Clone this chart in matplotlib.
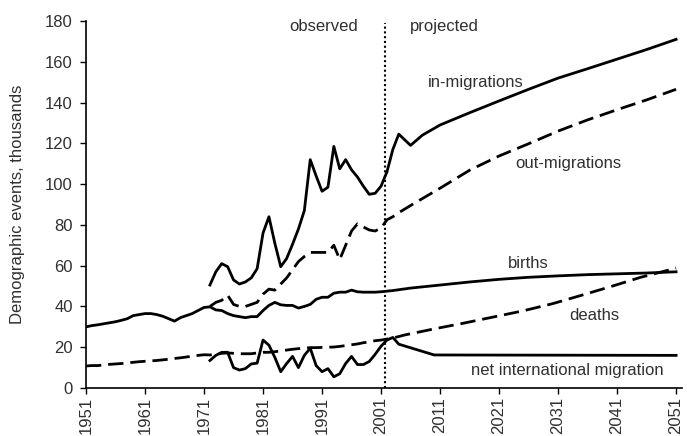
import numpy as np
import matplotlib
matplotlib.use('Agg')
import matplotlib.pyplot as plt

plt.rcParams['font.family'] = ['Liberation Sans', 'DejaVu Sans']

# births and deaths, observed yearly then projected
births_years = list(range(1951, 2002)) + [2003, 2006, 2011, 2016, 2021, 2026, 2031, 2036, 2041, 2046, 2051]
births = [30, 30.6, 31, 31.5, 32, 32.5, 33.2, 34, 35.5, 36, 36.5, 36.5, 36, 35.2, 34, 32.8, 34.5, 35.5,
          36.5, 38, 39.5, 39.8, 38.3, 38, 36.5, 35.5, 35, 34.5, 35, 35, 38, 40.5, 42, 40.8, 40.5, 40.5,
          39.2, 40, 41, 43.5, 44.5, 44.5, 46.5, 47, 47, 48, 47.2, 47, 47, 47, 47.2,
          47.8, 49, 50.5, 52, 53.3, 54.3, 55, 55.6, 56, 56.4, 57]

deaths_years = list(range(1951, 2002)) + [2003, 2005, 2010, 2015, 2020, 2025, 2030, 2035, 2040, 2045, 2051]
deaths = [10.8, 11, 11, 11.3, 11.6, 11.8, 12, 12.3, 12.6, 12.9, 13.1, 13.3, 13.5, 13.8, 14.1, 14.5, 14.8,
          15.2, 15.6, 16, 16.3, 16.2, 16.5, 17, 17.2, 17, 16.8, 16.8, 16.8, 17.2, 17.5, 17.5, 17.8, 18.2,
          18.6, 19, 19.3, 19.6, 19.8, 19.8, 19.9, 20, 20.1, 20.4, 20.8, 21.2, 21.6, 22.2, 22.6, 23.2, 23.5,
          24.5, 26, 29, 31.8, 34.8, 37.8, 41.3, 45.5, 49.8, 54.3, 58.8]

# migrations start in 1972
mig_years = list(range(1972, 2005))
in_mig = [50.5, 57, 61, 59.5, 53, 51, 52, 54, 58.5, 76, 84, 71, 59.5, 63.5, 70.5, 78, 87, 112, 104,
          96.5, 98.5, 118.5, 107.5, 112, 107, 103.5, 99, 95, 95.5, 99, 106, 117, 124.5]
in_proj_years = [2006, 2008, 2011, 2016, 2021, 2026, 2031, 2036, 2041, 2046, 2051]
in_proj = [119, 124, 129, 135, 140.8, 146.5, 152, 156.6, 161.3, 166, 171]

out_mig = [40, 42, 43, 45.5, 41, 40, 40, 41, 42, 46, 48.5, 48, 51, 54, 58, 62, 64.5, 66.5, 66.5, 66.5,
           66.5, 70, 63, 70, 77, 80.5, 79, 77.5, 77, 78.5, 82.5, 84, 86]
out_proj_years = [2006, 2011, 2016, 2021, 2026, 2031, 2036, 2041, 2046, 2051]
out_proj = [89.5, 98, 106.8, 113.8, 119.8, 126, 131.5, 136.5, 141.3, 146.5]

net_years = list(range(1972, 2005)) + [2010, 2051]
net_mig = [13.5, 16, 17.5, 17.5, 10, 8.8, 9.5, 11.8, 12.2, 23.5, 21, 15, 8, 12, 15.5, 10, 16, 19.5, 11,
           8, 9.5, 5.5, 7, 12, 15.5, 11.5, 11.5, 13, 16.5, 20.5, 23.5, 24.8, 21.5, 16.2, 16]

split_year = 2001.6
tick_years = list(range(1951, 2052, 10))

labels = {
    'observed': (1991.2, 177.5),
    'projected': (2011.8, 177.5),
    'in-migrations': (2017, 150),
    'out-migrations': (2032.7, 110.3),
    'births': (2026, 61.3),
    'deaths': (2037.2, 35.8),
    'net international migration': (2032.5, 8.8),
}

fig = plt.figure(figsize=(6.87, 4.36), dpi=100)
ax = fig.add_axes([0.1252, 0.1101, 0.8675, 0.8417])

dash = (0, (5.5, 2.5))
lw = 2.0
ax.plot(births_years, births, color='black', lw=lw)
ax.plot(deaths_years, deaths, color='black', lw=lw, linestyle=dash)
ax.plot(mig_years + in_proj_years, in_mig + in_proj, color='black', lw=lw)
ax.plot(mig_years + out_proj_years, out_mig + out_proj, color='black', lw=lw, linestyle=dash)
ax.plot(net_years, net_mig, color='black', lw=lw)
ax.plot([split_year, split_year], [0, 179], color='black', lw=1.5, linestyle=(0, (1, 1.3)))

for txt, (x, y) in labels.items():
    ax.text(x, y, txt, ha='center', va='center', fontsize=12, color='#303030')

ax.set_xlim(1951, 2052)
ax.set_ylim(0, 180)
ax.set_xticks(tick_years)
ax.set_xticklabels([str(y) for y in tick_years], rotation=90)
ax.set_yticks(np.arange(0, 181, 20))
ax.tick_params(axis='both', labelsize=12, labelcolor='#303030', width=1, length=4.5, direction='out')
ax.tick_params(axis='x', pad=2)
ax.tick_params(axis='y', pad=5)
for s in ['top', 'right']:
    ax.spines[s].set_visible(False)
for s in ['left', 'bottom']:
    ax.spines[s].set_linewidth(1.2)
ax.set_ylabel('Demographic events, thousands', fontsize=12, color='#303030')
ax.yaxis.set_label_coords(-0.102, 0.5)

plt.savefig('out.png', dpi=100)
